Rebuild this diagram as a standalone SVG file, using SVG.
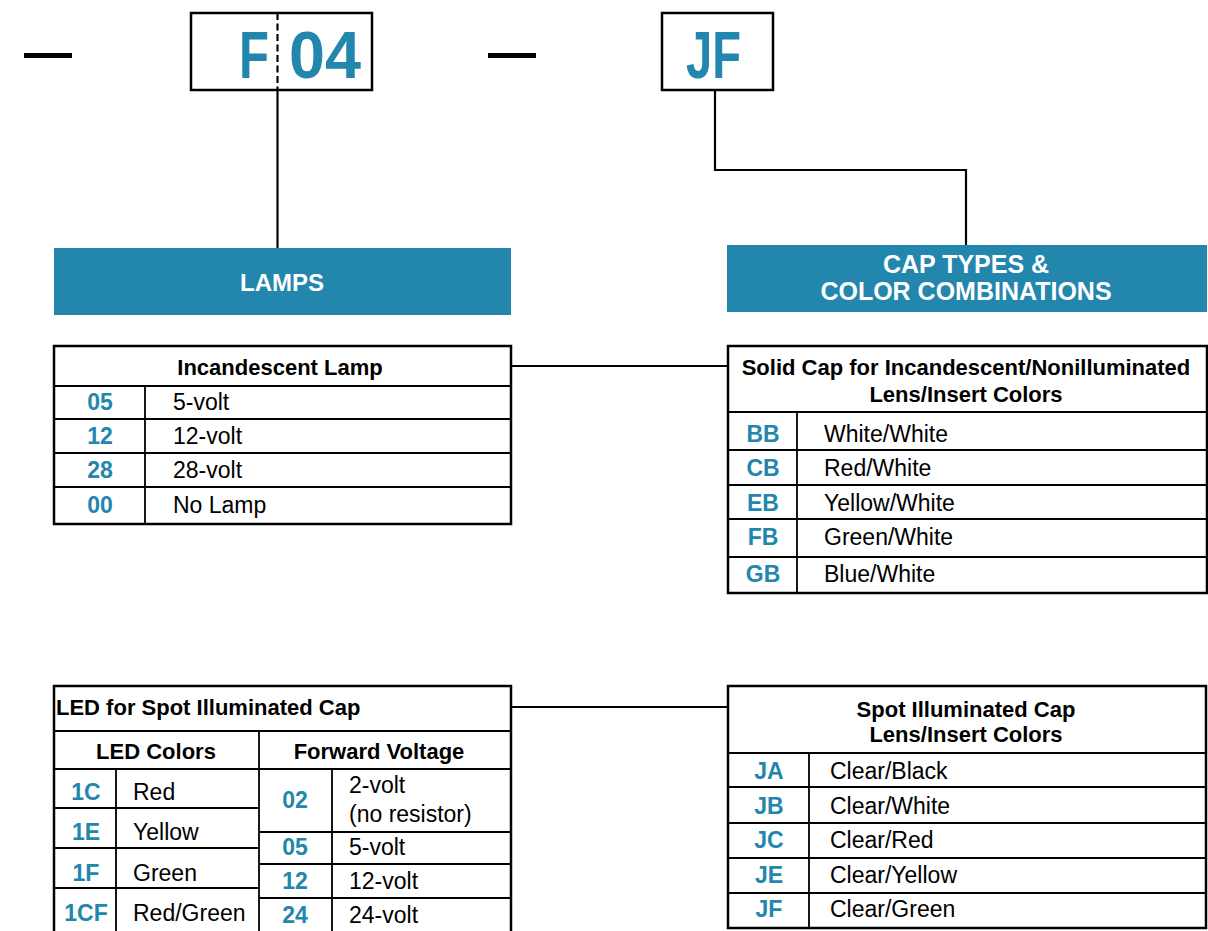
<svg xmlns="http://www.w3.org/2000/svg" width="1208" height="931" viewBox="0 0 1208 931">
<style>
text{font-family:"Liberation Sans",Arial,sans-serif}
.big{font-size:66px;font-weight:bold;fill:#2286ad}
.ban{fill:#2286ad}
.bant{font-size:24px;font-weight:bold;fill:#fff;text-anchor:middle}
.hd{font-size:22px;font-weight:bold;fill:#000;text-anchor:middle}
.code{font-size:23px;font-weight:bold;fill:#2286ad;text-anchor:middle}
.tx{font-size:23px;fill:#000}
.box{fill:#fff;stroke:#000;stroke-width:2.5}
.ln{stroke:#000;stroke-width:1.8;fill:none}
.cn{stroke:#000;stroke-width:2.2;fill:none}
</style>
<rect width="1208" height="931" fill="#fff"/>
<g id="dash1"><rect x="24" y="53" width="48" height="5" fill="#000"/></g>
<g id="dash2"><rect x="488" y="53" width="48" height="5" fill="#000"/></g>
<g id="connectors">
<path class="cn" d="M277.5 90 V248"/>
<path class="cn" d="M715 90 V170 H966 V246"/>
<path class="cn" d="M511 366 H728"/>
<path class="cn" d="M511 707 H728"/>
</g>
<g id="f04">
<rect class="box" x="191" y="13" width="181" height="77"/>
<line x1="277.5" y1="13" x2="277.5" y2="90" stroke="#000" stroke-width="2.2" stroke-dasharray="7,3.5"/>
<text class="big" x="239" y="78" textLength="30" lengthAdjust="spacingAndGlyphs">F</text>
<text class="big" x="289" y="78" textLength="72" lengthAdjust="spacingAndGlyphs">04</text>
</g>
<g id="jf">
<rect class="box" x="662" y="13" width="111" height="77"/>
<text class="big" x="686" y="78" textLength="55" lengthAdjust="spacingAndGlyphs">JF</text>
</g>
<g id="lamps">
<rect class="ban" x="54" y="248" width="457" height="67"/>
<text class="bant" x="282" y="291">LAMPS</text>
</g>
<g id="captypes">
<rect class="ban" x="727" y="245" width="480" height="67"/>
<text class="bant" x="966" y="273" style="font-size:25px">CAP TYPES &amp;</text>
<text class="bant" x="966" y="300" style="font-size:25px">COLOR COMBINATIONS</text>
</g>
<g id="incandescent">
<rect class="box" x="54" y="346" width="457" height="178"/>
<path class="ln" d="M54 386 H511 M54 419 H511 M54 453 H511 M54 487 H511 M145 386 V524"/>
<text class="hd" x="280" y="375">Incandescent Lamp</text>
<text class="code" x="100" y="410">05</text><text class="tx" x="173" y="410">5-volt</text>
<text class="code" x="100" y="444">12</text><text class="tx" x="173" y="444">12-volt</text>
<text class="code" x="100" y="478">28</text><text class="tx" x="173" y="478">28-volt</text>
<text class="code" x="100" y="513">00</text><text class="tx" x="173" y="513">No Lamp</text>
</g>
<g id="solidcap">
<rect class="box" x="728" y="346" width="479" height="247"/>
<path class="ln" d="M728 412 H1207 M728 450 H1207 M728 485 H1207 M728 519 H1207 M728 557 H1207 M797 412 V593"/>
<text class="hd" x="966" y="375">Solid Cap for Incandescent/Nonilluminated</text>
<text class="hd" x="966" y="402">Lens/Insert Colors</text>
<text class="code" x="763" y="442">BB</text><text class="tx" x="824" y="442">White/White</text>
<text class="code" x="763" y="476">CB</text><text class="tx" x="824" y="476">Red/White</text>
<text class="code" x="763" y="511">EB</text><text class="tx" x="824" y="511">Yellow/White</text>
<text class="code" x="763" y="545">FB</text><text class="tx" x="824" y="545">Green/White</text>
<text class="code" x="763" y="582">GB</text><text class="tx" x="824" y="582">Blue/White</text>
</g>
<g id="led">
<path class="box" d="M54 945 V686 H511 V945"/>
<path class="ln" d="M54 731 H511 M54 769 H511 M259 731 V945 M116 769 V945 M332 769 V945 M54 808 H259 M54 848 H259 M54 888 H259 M259 832 H511 M259 864 H511 M259 898 H511"/>
<text class="hd" x="56" y="715" style="text-anchor:start">LED for Spot Illuminated Cap</text>
<text class="hd" x="156" y="759">LED Colors</text>
<text class="hd" x="379" y="759">Forward Voltage</text>
<text class="code" x="86" y="800">1C</text><text class="tx" x="133" y="800">Red</text>
<text class="code" x="86" y="840">1E</text><text class="tx" x="133" y="840">Yellow</text>
<text class="code" x="86" y="881">1F</text><text class="tx" x="133" y="881">Green</text>
<text class="code" x="86" y="921">1CF</text><text class="tx" x="133" y="921">Red/Green</text>
<text class="code" x="295" y="808">02</text><text class="tx" x="349" y="793">2-volt</text><text class="tx" x="349" y="822">(no resistor)</text>
<text class="code" x="295" y="855">05</text><text class="tx" x="349" y="855">5-volt</text>
<text class="code" x="295" y="889">12</text><text class="tx" x="349" y="889">12-volt</text>
<text class="code" x="295" y="923">24</text><text class="tx" x="349" y="923">24-volt</text>
</g>
<g id="spotcap">
<rect class="box" x="728" y="686" width="478" height="242"/>
<path class="ln" d="M728 753 H1206 M728 787 H1206 M728 823 H1206 M728 858 H1206 M728 893 H1206 M809 753 V928"/>
<text class="hd" x="966" y="717">Spot Illuminated Cap</text>
<text class="hd" x="966" y="742">Lens/Insert Colors</text>
<text class="code" x="769" y="779">JA</text><text class="tx" x="830" y="779">Clear/Black</text>
<text class="code" x="769" y="814">JB</text><text class="tx" x="830" y="814">Clear/White</text>
<text class="code" x="769" y="848">JC</text><text class="tx" x="830" y="848">Clear/Red</text>
<text class="code" x="769" y="883">JE</text><text class="tx" x="830" y="883">Clear/Yellow</text>
<text class="code" x="769" y="917">JF</text><text class="tx" x="830" y="917">Clear/Green</text>
</g>
</svg>
